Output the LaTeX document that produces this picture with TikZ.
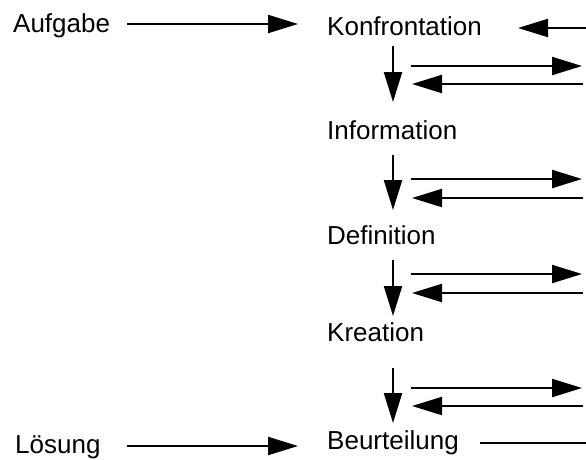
\documentclass[tikz,border=0pt]{standalone}
\usepackage{fontspec}
\setmainfont{Liberation Sans}
\usetikzlibrary{arrows.meta}
\begin{document}
\begin{tikzpicture}[x=1pt,y=-1pt,
  lbl/.style={inner sep=0pt, anchor=base west, font=\fontsize{26}{30}\selectfont},
  arr/.style={line width=2.2pt, -{Triangle[length=30pt,width=18pt]}},
  plain/.style={line width=2.2pt}]
\useasboundingbox (0,0) rectangle (586,459);
% text nodes
\node[lbl] (aufg) at (13,32) {Aufgabe};
\node[lbl] (loes) at (15,453) {Lösung};
\node[lbl] (konf) at (327,35) {Konfrontation};
\node[lbl] (info) at (327,139) {Information};
\node[lbl] (defi) at (327,244) {Definition};
\node[lbl] (krea) at (327,341) {Kreation};
\node[lbl] (beur) at (327,449) {Beurteilung};
% coordinates
\coordinate (aufgE) at (127,24);
\coordinate (konfW) at (298,24);
\coordinate (loesE) at (127,446);
\coordinate (beurW) at (298,446);
\coordinate (konfIn) at (586,28);
\coordinate (konfInT) at (518,28);
\coordinate (beurOa) at (480,443);
\coordinate (beurOb) at (586,443);
% down arrows
\coordinate (d1a) at (393,46);  \coordinate (d1b) at (393,102);
\coordinate (d2a) at (393,155); \coordinate (d2b) at (393,210);
\coordinate (d3a) at (393,260); \coordinate (d3b) at (393,316);
\coordinate (d4a) at (393,368); \coordinate (d4b) at (393,423);
% side pairs
\coordinate (r1a) at (411,66);  \coordinate (r1b) at (582,66);
\coordinate (l1a) at (583,84);  \coordinate (l1b) at (412,84);
\coordinate (r2a) at (411,179); \coordinate (r2b) at (582,179);
\coordinate (l2a) at (583,198); \coordinate (l2b) at (412,198);
\coordinate (r3a) at (411,274); \coordinate (r3b) at (582,274);
\coordinate (l3a) at (583,293); \coordinate (l3b) at (412,293);
\coordinate (r4a) at (411,388); \coordinate (r4b) at (582,388);
\coordinate (l4a) at (583,406); \coordinate (l4b) at (412,406);
% connectors
\draw[arr] (aufgE) -- (konfW);
\draw[arr] (loesE) -- (beurW);
\draw[arr] (konfIn) -- (konfInT);
\draw[plain] (beurOa) -- (beurOb);
\foreach \i in {1,2,3,4}{
  \draw[arr] (d\i a) -- (d\i b);
  \draw[arr] (r\i a) -- (r\i b);
  \draw[arr] (l\i a) -- (l\i b);
}
\end{tikzpicture}
\end{document}
